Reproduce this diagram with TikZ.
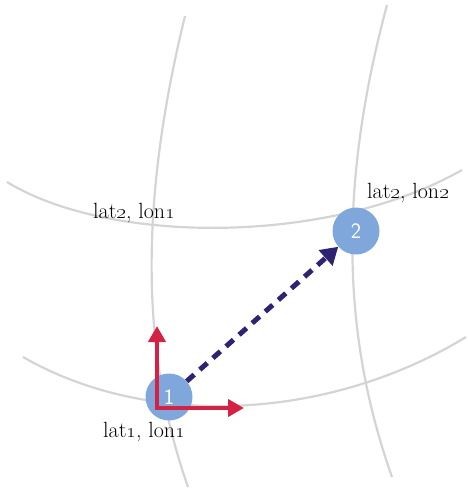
\documentclass[tikz,border=0pt]{standalone}
\usepackage{tikz}
\usetikzlibrary{arrows.meta, positioning, calc}
\definecolor{gridgray}{HTML}{D4D4D4}
\definecolor{ptblue}{HTML}{80A7DC}
\definecolor{vecred}{HTML}{D42245}
\definecolor{pathpurple}{HTML}{2E2272}

\begin{document}
\begin{tikzpicture}[x=1pt, y=-1pt,
  gridline/.style={gridgray, line width=2.2pt},
  pt/.style={circle, fill=ptblue, minimum size=47pt, inner sep=0pt, text=white, font=\sffamily\fontsize{22}{22}\selectfont},
  lbl/.style={font=\fontsize{22}{24}\selectfont}]
\useasboundingbox (0,0) rectangle (468,488);
% meridians and parallels
\draw[gridline] (185,16) .. controls (140,200) and (140,350) .. (188,487);
\draw[gridline] (387,5) .. controls (340,180) and (340,330) .. (392,477);
\draw[gridline] (7,182) .. controls (110,245) and (330,245) .. (462,170);
\draw[gridline] (23,357) .. controls (150,430) and (330,420) .. (466,337);
% points
\node[pt] (p1) at (169,397) {1};
\node[pt] (p2) at (356,231) {2};
% local axes at point 1
\coordinate (o) at (157,408);
\coordinate (north) at (157,326);
\coordinate (east) at (244,408);
\draw[-{Triangle[length=16pt, width=17pt]}, vecred, line width=4pt] (o) -- (north);
\draw[-{Triangle[length=16pt, width=17pt]}, vecred, line width=4pt] ($(o)+(-2,0)$) -- (east);
% path from 1 to 2
\draw[-{Triangle[length=17pt, width=20pt]}, pathpurple, line width=5pt, dash pattern=on 10pt off 7.5pt] (p1) -- (p2);
% labels
\node[lbl] (l21) at (134,213) {lat\oldstylenums{2}, lon\oldstylenums{1}};
\node[lbl] (l22) at (408,193) {lat\oldstylenums{2}, lon\oldstylenums{2}};
\node[lbl] (l11) at (144,432) {lat\oldstylenums{1}, lon\oldstylenums{1}};
\end{tikzpicture}
\end{document}
